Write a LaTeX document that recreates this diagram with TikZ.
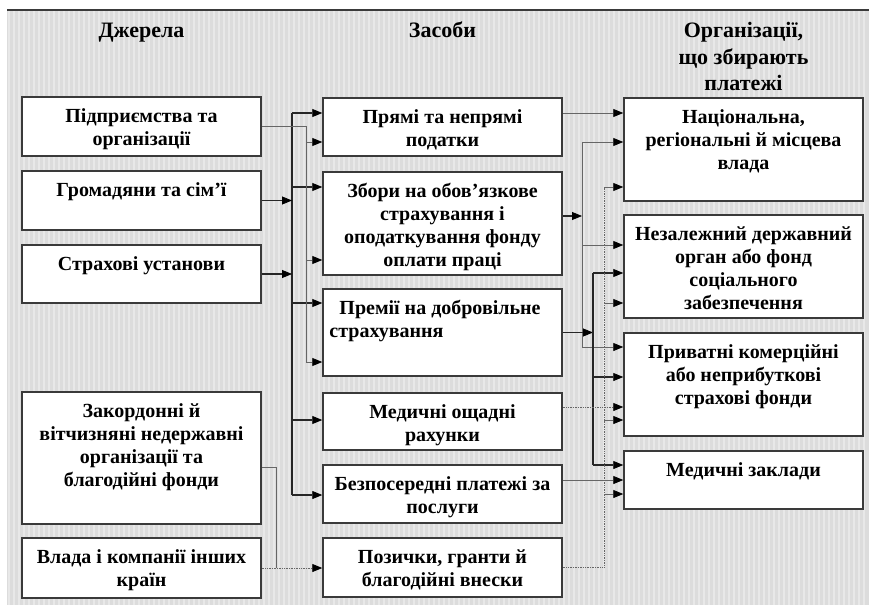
\documentclass[tikz,border=0pt]{standalone}
\usepackage{fontspec}
\setmainfont{Liberation Serif}
\usetikzlibrary{arrows.meta}
\definecolor{bgc}{HTML}{DCDCDC}
\definecolor{stripe}{HTML}{E8E8E8}
\definecolor{edge}{HTML}{3A3A3A}
\begin{document}
\begin{tikzpicture}[x=1pt,y=-1pt,
  >={Triangle[length=10pt,width=8pt,color=black,line width=0.8pt]},
  box/.style={draw=edge, line width=1.5pt, fill=white, rectangle, inner sep=0pt, minimum width=239pt},
  txt/.style={align=center, inner sep=0pt, anchor=north, font=\bfseries\fontsize{20}{23}\selectfont},
  head/.style={align=center, inner sep=0pt, anchor=north, font=\bfseries\fontsize{22}{26.5}\selectfont},
  thk/.style={line width=1.3pt, draw=black!85},
  thn/.style={line width=0.7pt, draw=black!60},
  dtd/.style={line width=0.7pt, draw=black!60, densely dotted}]
\useasboundingbox (0,0) rectangle (869,605);
\fill[bgc] (7,10) rectangle (869,605);
\foreach \sx in {9,14,...,866} {\draw[stripe, line width=1.2pt] (\sx,11) -- (\sx,605);}
\draw[edge, line width=2pt] (7,10) -- (869,10);
% headings
\node[head] (h1) at (141.5,19) {\strut Джерела};
\node[head] (h2) at (442.5,19) {\strut Засоби};
\node[head] (h3) at (743.5,19) {\strut Організації,\\що збирають\\платежі};
% left column
\node[box, minimum height=59pt] (L1) at (141.5,126.5) {};
\node[box, minimum height=59pt] (L2) at (141.5,200.5) {};
\node[box, minimum height=58pt] (L3) at (141.5,274) {};
\node[box, minimum height=132pt] (L4) at (141.5,458) {};
\node[box, minimum height=60pt] (L5) at (141.5,568) {};
% middle column
\node[box, minimum height=58pt] (M1) at (442.5,127) {};
\node[box, minimum height=103pt] (M2) at (442.5,223.5) {};
\node[box, minimum height=87pt] (M3) at (442.5,332.5) {};
\node[box, minimum height=57pt] (M4) at (442.5,421.5) {};
\node[box, minimum height=58pt] (M5) at (442.5,494) {};
\node[box, minimum height=59pt] (M6) at (442.5,567.5) {};
% right column
\node[box, minimum height=103pt] (R1) at (743.5,149.5) {};
\node[box, minimum height=103pt] (R2) at (743.5,266.5) {};
\node[box, minimum height=103pt] (R3) at (743.5,384.5) {};
\node[box, minimum height=58pt] (R4) at (743.5,480) {};
% texts
\node[txt] (L1t) at ([yshift=-10pt]L1.north) {\strut Підприємства та\\організації};
\node[txt] (L2t) at ([yshift=-10pt]L2.north) {\strut Громадяни та сім’ї};
\node[txt] (L3t) at ([yshift=-10pt]L3.north) {\strut Страхові установи};
\node[txt] (L4t) at ([yshift=-10pt]L4.north) {\strut Закордонні й\\вітчизняні недержавні\\організації та\\благодійні фонди};
\node[txt] (L5t) at ([yshift=-10pt]L5.north) {\strut Влада і компанії інших\\країн};
\node[txt] (M1t) at ([yshift=-10pt]M1.north) {\strut Прямі та непрямі\\податки};
\node[txt] (M2t) at ([yshift=-10pt]M2.north) {\strut Збори на обов’язкове\\страхування і\\оподаткування фонду\\оплати праці};
\node[txt, align=left, anchor=north west] (M3t) at ([xshift=7pt,yshift=-10pt]M3.north west) {\strut\hspace*{10pt}Премії на добровільне\\страхування};
\node[txt] (M4t) at ([yshift=-10pt]M4.north) {\strut Медичні ощадні\\рахунки};
\node[txt] (M5t) at ([yshift=-10pt]M5.north) {\strut Безпосередні платежі за\\послуги};
\node[txt] (M6t) at ([yshift=-10pt]M6.north) {\strut Позички, гранти й\\благодійні внески};
\node[txt] (R1t) at ([yshift=-10pt]R1.north) {\strut Національна,\\регіональні й місцева\\влада};
\node[txt] (R2t) at ([yshift=-10pt]R2.north) {\strut Незалежний державний\\орган або фонд\\соціального\\забезпечення};
\node[txt] (R3t) at ([yshift=-10pt]R3.north) {\strut Приватні комерційні\\або неприбуткові\\страхові фонди};
\node[txt] (R4t) at ([yshift=-10pt]R4.north) {\strut Медичні заклади};
% bus coordinates
\coordinate (bA) at (292,113);
\coordinate (bB) at (306,126.5);
\coordinate (bC) at (276,467);
\coordinate (bD) at (582,142);
\coordinate (bE) at (593,273);
\coordinate (bF) at (604,187);
% ---- left side connectors
\draw[thk] (bA) -- (bA |- 0,495);
\draw[thk,->] (L2.east) -- (L2.east -| bA);
\draw[thk,->] (L3.east) -- (L3.east -| bA);
\draw[thk,->] (bA) -- (bA -| M1.west);
\draw[thk,->] (bA |- 0,187) -- (M2.west |- 0,187);
\draw[thk,->] (bA |- 0,303) -- (M3.west |- 0,303);
\draw[thk,->] (bA |- 0,420) -- (M4.west |- 0,420);
\draw[thk,->] (bA |- 0,495) -- (M5.west |- 0,495);
\draw[thn] (L1.east) -- (bB) -- (bB |- 0,362);
\draw[thn,->] (bB |- 0,362) -- (M3.west |- 0,362);
\draw[thn,->] (bB |- 0,142) -- (M1.west |- 0,142);
\draw[thn,->] (bB |- 0,260) -- (M2.west |- 0,260);
\draw[thn] (L4.east |- 0,467) -- (bC) -- (bC |- 0,568);
\draw[dtd,->] (L5.east |- 0,568) -- (M6.west |- 0,568);
% ---- right side connectors
\draw[thn,->] (M1.east |- 0,113) -- (R1.west |- 0,113);
\draw[thk,->] (M2.east |- 0,216) -- (bD |- 0,216);
\draw[thn] (bD) -- (bD |- 0,347);
\draw[thn,->] (bD) -- (bD -| R1.west);
\draw[thn,->] (bD |- 0,245) -- (R2.west |- 0,245);
\draw[thn,->] (bD |- 0,347) -- (R3.west |- 0,347);
\draw[thk,->] (M3.east) -- (M3.east -| bE);
\draw[thk] (bE) -- (bE |- 0,465);
\draw[thk,->] (bE) -- (bE -| R2.west);
\draw[thk,->] (bE |- 0,377) -- (R3.west |- 0,377);
\draw[thk,->] (bE |- 0,465) -- (R4.west |- 0,465);
\draw[dtd,->] (M4.east |- 0,407) -- (R3.west |- 0,407);
\draw[thn,->] (M5.east |- 0,480) -- (R4.west |- 0,480);
\draw[dtd] (M6.east |- 0,567) -- (bF |- 0,567) -- (bF);
\draw[thn,->] (bF) -- (bF -| R1.west);
\draw[thn,->] (bF |- 0,303) -- (R2.west |- 0,303);
\draw[thn,->] (bF |- 0,420) -- (R3.west |- 0,420);
\draw[thn,->] (bF |- 0,494) -- (R4.west |- 0,494);
\end{tikzpicture}
\end{document}
